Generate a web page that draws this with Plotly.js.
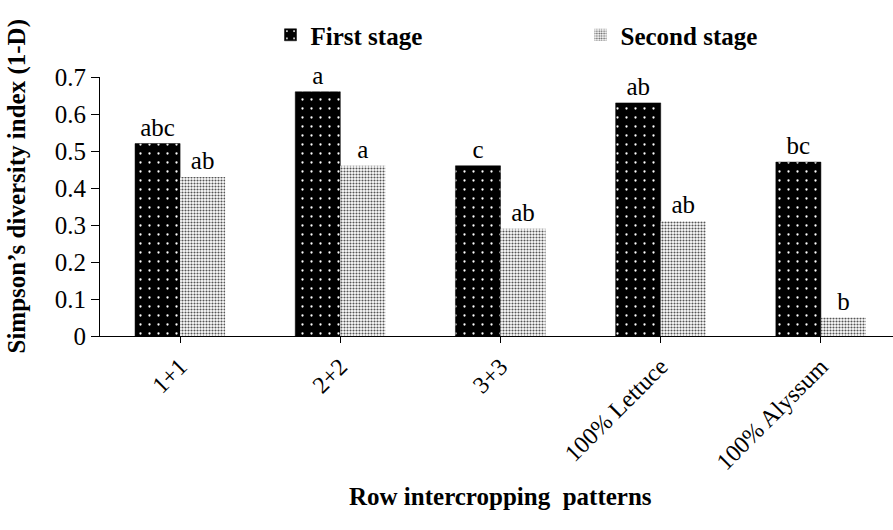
<!DOCTYPE html>
<html>
<head>
<meta charset="utf-8">
<script src="https://cdn.plot.ly/plotly-3.0.1.min.js"></script>
<style>html,body{margin:0;padding:0;background:#fff;}#chart{width:893px;height:530px;}</style>
</head>
<body>
<div id="chart"></div>
<script>
const categories = ["1+1", "2+2", "3+3", "100% Lettuce", "100% Alyssum"];
const firstStage = [0.52, 0.66, 0.46, 0.63, 0.47];
const secondStage = [0.43, 0.46, 0.29, 0.31, 0.05];
const firstLetters = ["abc", "a", "c", "ab", "bc"];
const secondLetters = ["ab", "a", "ab", "ab", "b"];
const yTicks = [0, 0.1, 0.2, 0.3, 0.4, 0.5, 0.6, 0.7];
const yTickText = ["0", "0.1", "0.2", "0.3", "0.4", "0.5", "0.6", "0.7"];

const serif = "Liberation Serif, Times New Roman, serif";

const traces = [
  {
    type: "bar", name: "First stage", x: categories, y: firstStage,
    text: firstLetters, textposition: "outside", cliponaxis: false,
    textfont: {family: serif, size: 25, color: "#000"},
    marker: {color: "#000", line: {width: 0.5, color: "#000"},
      pattern: {shape: ".", bgcolor: "#000", fgcolor: "#fff", size: 9, solidity: 0.05, fillmode: "replace"}}
  },
  {
    type: "bar", name: "Second stage", x: categories, y: secondStage,
    text: secondLetters, textposition: "outside", cliponaxis: false,
    textfont: {family: serif, size: 25, color: "#000"},
    marker: {color: "#fff", line: {width: 0},
      pattern: {shape: ".", bgcolor: "#fff", fgcolor: "#555", size: 3, solidity: 0.4, fillmode: "replace"}}
  }
];

const layout = {
  width: 893, height: 530,
  margin: {l: 100, r: 0, t: 77, b: 194},
  paper_bgcolor: "#fff", plot_bgcolor: "#fff",
  barmode: "group", bargap: 0.4375, bargroupgap: 0,
  font: {family: serif, color: "#000"},
  showlegend: true,
  legend: {orientation: "h", x: 0.215, xanchor: "left", y: 1.162, yanchor: "middle",
    font: {family: serif, size: 25, color: "#000", weight: "bold"},
    entrywidth: 265, entrywidthmode: "pixels", traceorder: "normal"},
  xaxis: {
    type: "category", range: [-0.5, 4.45], showline: true, linecolor: "#000", linewidth: 1,
    ticks: "outside", ticklen: 6, tickcolor: "#000", tickangle: -45,
    tickfont: {family: serif, size: 24, color: "#000"}, showgrid: false, zeroline: false, fixedrange: true
  },
  yaxis: {
    range: [0, 0.7], tickvals: yTicks, ticktext: yTickText, showline: true, linecolor: "#000", linewidth: 1,
    ticks: "outside", ticklen: 8, tickcolor: "#000",
    tickfont: {family: serif, size: 25, color: "#000"}, showgrid: false, zeroline: false, fixedrange: true
  },
  annotations: [
    {text: "Simpson\u2019s diversity index (1-D)", xref: "paper", yref: "paper",
      x: -0.105, y: 0.58, xanchor: "center", yanchor: "middle", textangle: -90, showarrow: false,
      font: {family: serif, size: 25, color: "#000", weight: "bold"}},
    {text: "Row intercropping&nbsp; patterns", xref: "paper", yref: "paper",
      x: 0.505, y: -0.62, xanchor: "center", yanchor: "middle", showarrow: false,
      font: {family: serif, size: 25, color: "#000", weight: "bold"}}
  ]
};

Plotly.newPlot("chart", traces, layout, {displayModeBar: false, staticPlot: true});
</script>
</body>
</html>
